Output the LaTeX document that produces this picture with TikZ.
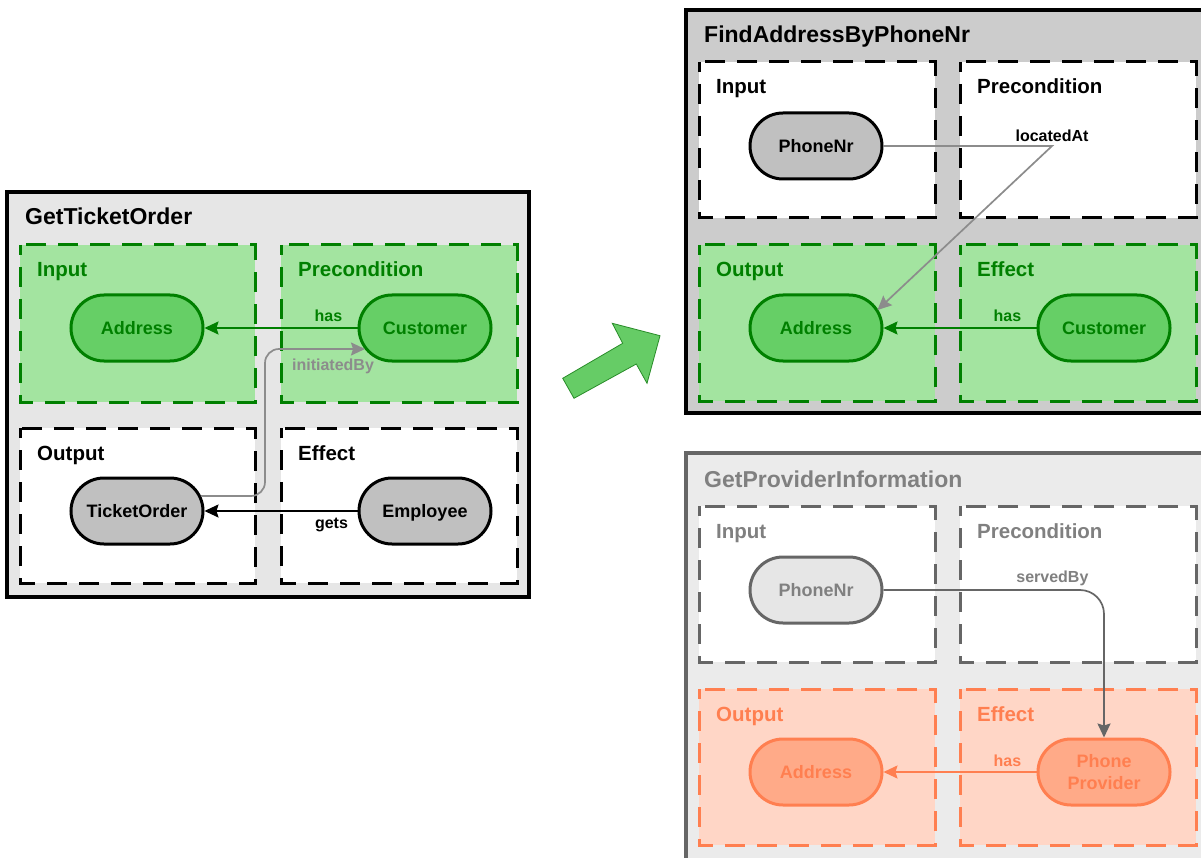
\documentclass[tikz,border=0pt]{standalone}
\usepackage{fontspec}
\setmainfont{Liberation Sans}
\usetikzlibrary{arrows.meta}
\definecolor{gdark}{RGB}{0,128,0}
\definecolor{gbox}{RGB}{163,228,160}
\definecolor{gnode}{RGB}{102,207,102}
\definecolor{obox}{RGB}{255,214,198}
\definecolor{onode}{RGB}{255,170,136}
\definecolor{oline}{RGB}{255,127,80}
\definecolor{gryA}{RGB}{230,230,230}
\definecolor{gryB}{RGB}{204,204,204}
\definecolor{gryC}{RGB}{235,235,235}
\definecolor{gryD}{RGB}{102,102,102}
\definecolor{gryT}{RGB}{128,128,128}
\definecolor{gryN}{RGB}{192,192,192}
\definecolor{gryL}{RGB}{140,140,140}
\definecolor{arrowg}{RGB}{102,204,102}
\definecolor{arrowd}{RGB}{40,140,40}
\tikzset{
  outerbox/.style={line width=3.2pt},
  partbox/.style={line width=3pt, dash pattern=on 20pt off 12pt, dash phase=10pt},
  ptitle/.style={anchor=base west, inner sep=0pt, font=\fontsize{23}{27}\selectfont\bfseries},
  plabel/.style={anchor=base west, inner sep=0pt, font=\fontsize{20.5}{24}\selectfont\bfseries},
  concept/.style={rectangle, rounded corners=33pt, minimum width=132pt, minimum height=66pt,
                  line width=3pt, inner sep=2pt, align=center, text height=13pt, text depth=0pt,
                  font=\fontsize{18}{22}\selectfont\bfseries},
  elabel/.style={inner sep=2pt, font=\fontsize{16}{19}\selectfont\bfseries},
  rel/.style={line width=1.7pt, -{Stealth[length=14pt,width=13pt,inset=2pt]}},
  greenc/.style={concept, draw=gdark, fill=gnode, text=gdark},
  grayc/.style={concept, draw=black, fill=gryN, text=black},
  orangec/.style={concept, draw=oline, fill=onode, text=oline},
}
\begin{document}
\begin{tikzpicture}[x=1pt,y=-1pt]
\useasboundingbox (0,0) rectangle (1201,858);
\clip (0,0) rectangle (1201,858);
\fill[white] (0,0) rectangle (1201,858);

% ---------------- left panel: GetTicketOrder
\begin{scope}[shift={(7,192)}]
  \draw[outerbox, draw=black, fill=gryA] (0,0) rectangle (522,405);
  \node[ptitle] (L-title) at (18,33) {GetTicketOrder};
  \draw[partbox, draw=gdark, fill=gbox] (13,53) rectangle (248,210);
  \draw[partbox, draw=gdark, fill=gbox] (274,53) rectangle (510,210);
  \draw[partbox, draw=black, fill=white] (13,236) rectangle (248,391);
  \draw[partbox, draw=black, fill=white] (274,236) rectangle (510,391);
  \node[plabel, text=gdark] (L-in) at (30,85) {Input};
  \node[plabel, text=gdark] (L-pre) at (291,85) {Precondition};
  \node[plabel] (L-out) at (30,268) {Output};
  \node[plabel] (L-eff) at (291,268) {Effect};
  \node[greenc] (L-addr) at (130,136) {Address};
  \node[greenc] (L-cust) at (418,136) {Customer};
  \node[grayc] (L-ticket) at (130,319) {TicketOrder};
  \node[grayc] (L-emp) at (418,319) {Employee};
  \draw[rel, draw=gdark] (L-cust) -- node[elabel, pos=0.19, above=3pt, text=gdark] (L-has) {has} (L-addr);
  \draw[rel, draw=black] (L-emp) -- node[elabel, pos=0.17, below=4pt] (L-gets) {gets} (L-ticket);
  \draw[rel, draw=gryL, rounded corners=14pt]
    ([xshift=-3.6pt,yshift=15pt]L-ticket.east) -| (258,157)
    -- node[elabel, pos=0.68, below=7pt, text=gryL] (L-init) {initiatedBy}
    ([xshift=7.5pt,yshift=-21pt]L-cust.west);
\end{scope}

% ---------------- big arrow
\draw[arrowd, line width=0.8pt, fill=arrowg, line join=miter]
  (562.7,378.3) -- (622.7,343.3) -- (612.3,323.3) -- (660,335.7)
  -- (647,383.3) -- (636.3,364) -- (574,398.3) -- cycle;

% ---------------- top-right panel: FindAddressByPhoneNr
\begin{scope}[shift={(686,10)}]
  \draw[outerbox, draw=black, fill=gryB] (0,0) rectangle (530,403);
  \node[ptitle] (T-title) at (18,33) {FindAddressByPhoneNr};
  \draw[partbox, draw=black, fill=white] (13,52) rectangle (249,208);
  \draw[partbox, draw=black, fill=white] (274,52) rectangle (510,208);
  \draw[partbox, draw=gdark, fill=gbox] (13,235) rectangle (249,391);
  \draw[partbox, draw=gdark, fill=gbox] (274,235) rectangle (510,391);
  \node[plabel] (T-in) at (30,84) {Input};
  \node[plabel] (T-pre) at (291,84) {Precondition};
  \node[plabel, text=gdark] (T-out) at (30,267) {Output};
  \node[plabel, text=gdark] (T-eff) at (291,267) {Effect};
  \node[grayc] (T-phone) at (130,136) {PhoneNr};
  \node[greenc] (T-addr) at (130,318) {Address};
  \node[greenc] (T-cust) at (418,318) {Customer};
  \draw[rel, draw=gdark] (T-cust) -- node[elabel, pos=0.19, above=3pt, text=gdark] (T-has) {has} (T-addr);
  \draw[rel, draw=gryL]
    (T-phone.east) -- (366,136) node[elabel, above=1pt, text=black] (T-loc) {locatedAt}
    -- ([xshift=-6pt,yshift=18pt]T-addr.east);
\end{scope}

% ---------------- bottom-right panel: GetProviderInformation
\begin{scope}[shift={(686,453)}]
  \draw[outerbox, draw=gryD, fill=gryC] (0,0) rectangle (530,420);
  \node[ptitle, text=gryT] (B-title) at (18,34) {GetProviderInformation};
  \draw[partbox, draw=gryD, fill=white] (13,53) rectangle (249,209);
  \draw[partbox, draw=gryD, fill=white] (274,53) rectangle (510,209);
  \draw[partbox, draw=oline, fill=obox] (13,236) rectangle (249,392);
  \draw[partbox, draw=oline, fill=obox] (274,236) rectangle (510,392);
  \node[plabel, text=gryT] (B-in) at (30,85) {Input};
  \node[plabel, text=gryT] (B-pre) at (291,85) {Precondition};
  \node[plabel, text=oline] (B-out) at (30,268) {Output};
  \node[plabel, text=oline] (B-eff) at (291,268) {Effect};
  \node[concept, draw=gryD, fill=gryA, text=gryT] (B-phone) at (130,137) {PhoneNr};
  \node[orangec] (B-addr) at (130,319) {Address};
  \node[orangec, text height=35pt] (B-prov) at (418,319) {Phone\\Provider};
  \draw[rel, draw=oline] (B-prov) -- node[elabel, pos=0.19, above=3pt, text=oline] (B-has) {has} (B-addr);
  \draw[rel, draw=gryD, rounded corners=24pt]
    (B-phone.east) -| node[elabel, pos=0.383, above=1pt, text=gryT] (B-served) {servedBy} (B-prov.north);
\end{scope}
\end{tikzpicture}
\end{document}
